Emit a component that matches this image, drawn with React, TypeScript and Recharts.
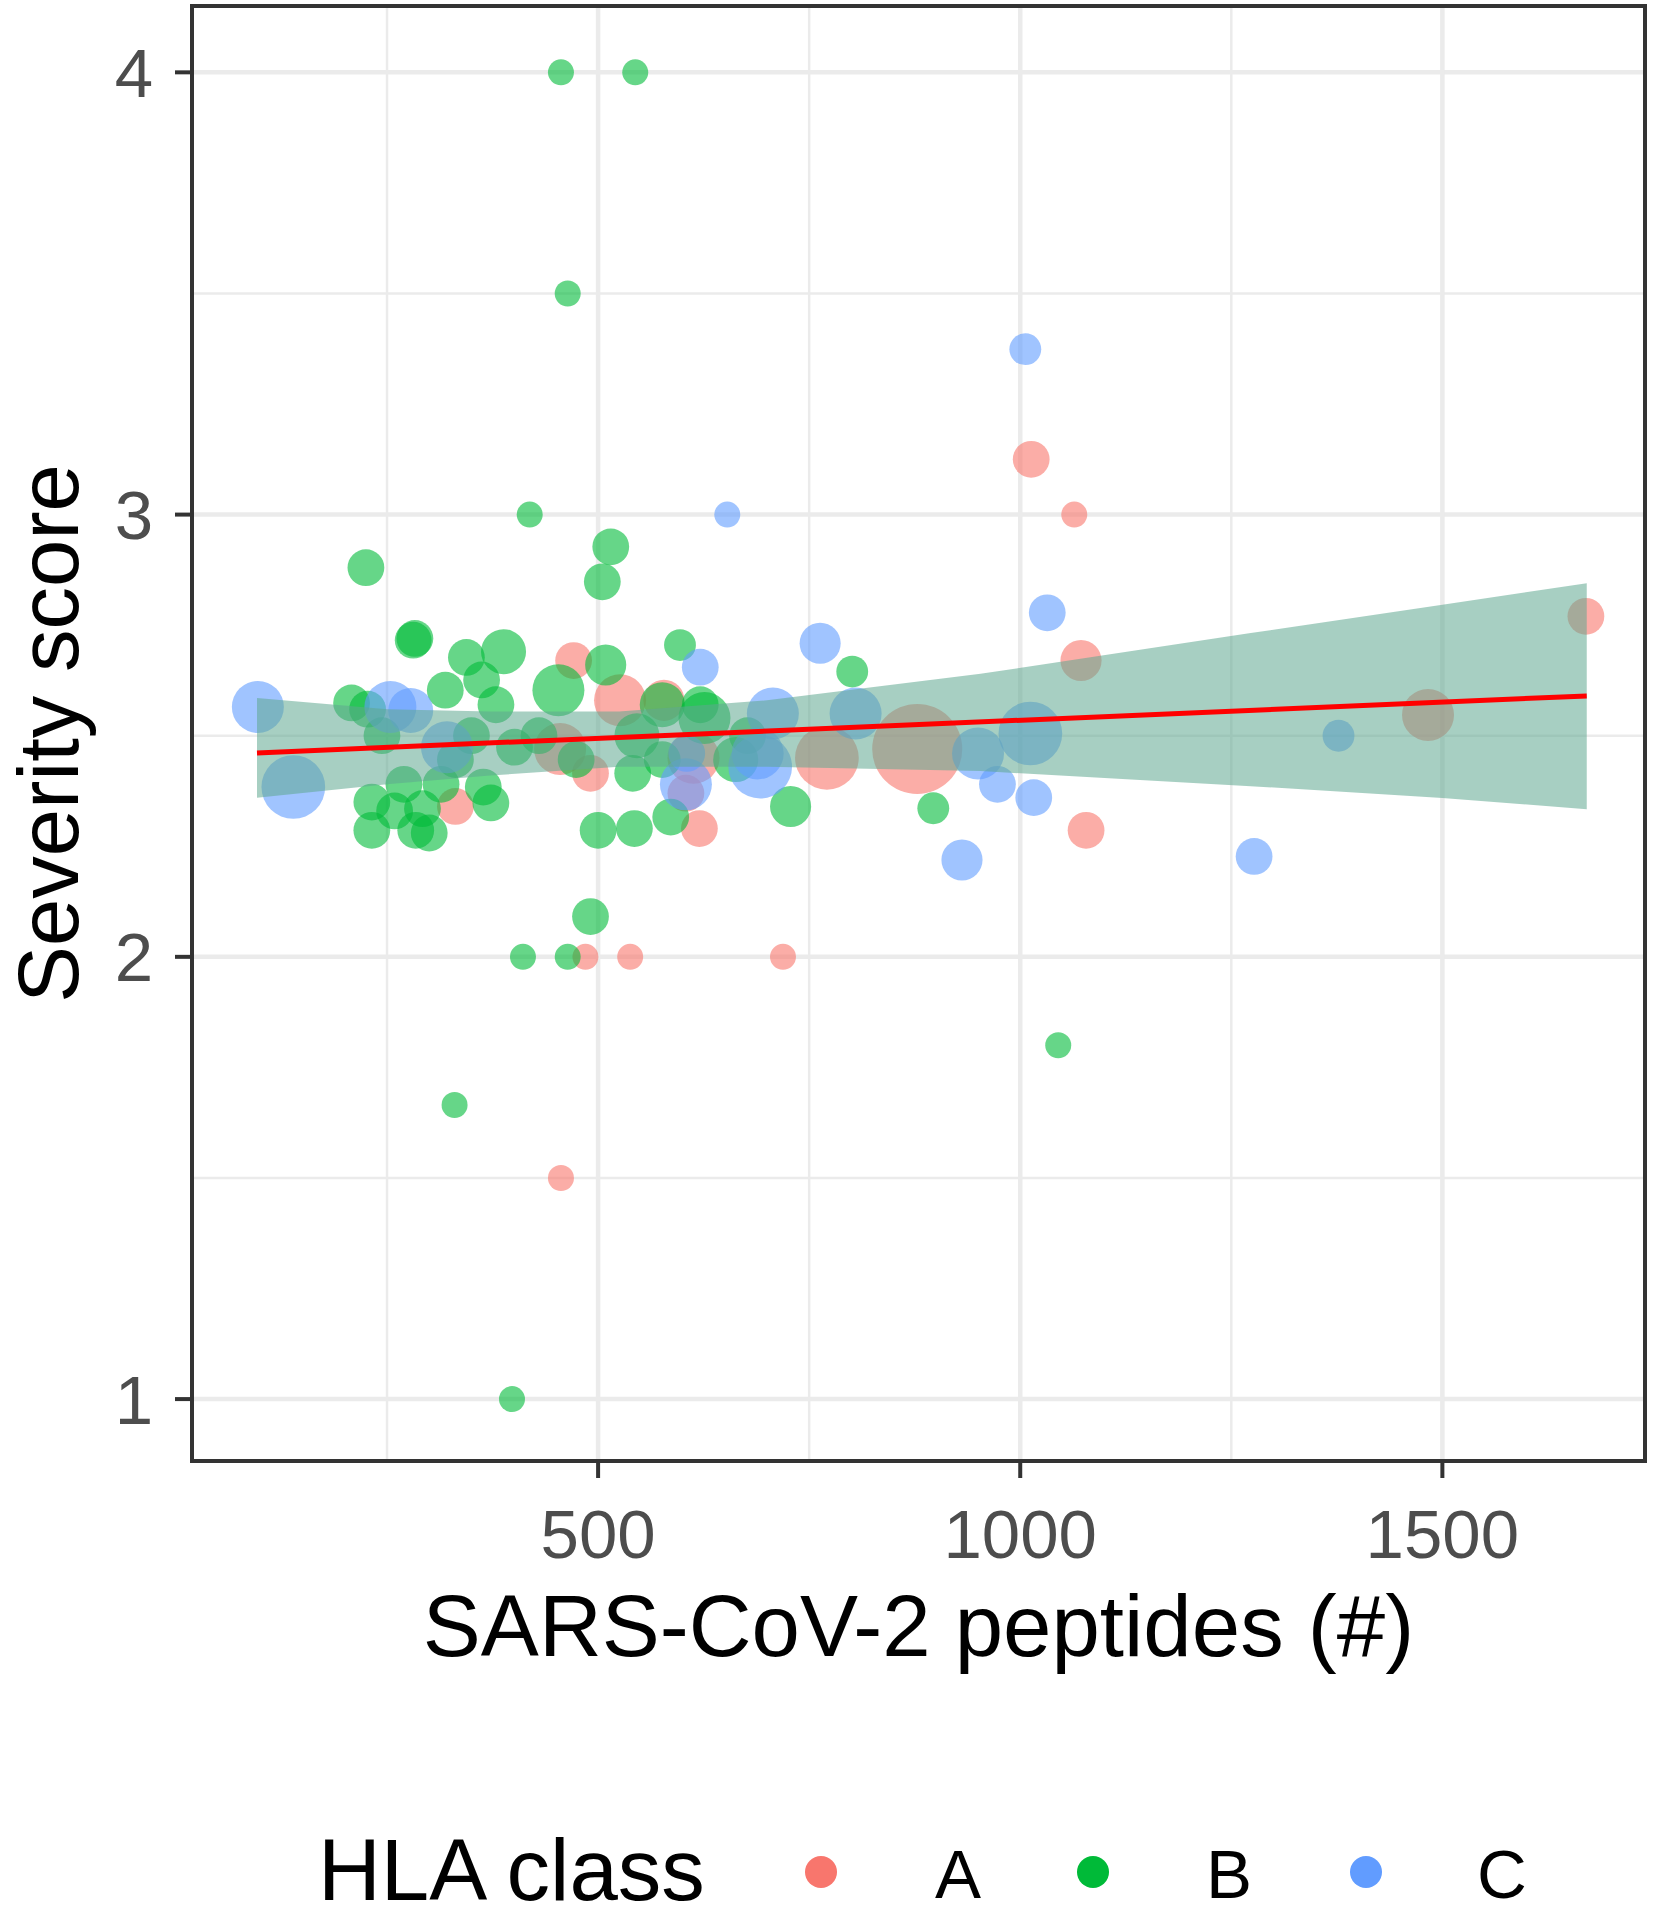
import {
  Area,
  CartesianGrid,
  ComposedChart,
  Line,
  ReferenceArea,
  Scatter,
  XAxis,
  YAxis,
  ZAxis,
} from "recharts";

const FONT = '"Liberation Sans", Arial, Helvetica, sans-serif';

// [peptides, severity, weight]
const hlaA: [number, number, number][] = [
  [1013, 3.125, 2], [1064, 3.0, 1], [1072, 2.67, 2.5], [1670, 2.77, 2],
  [1483, 2.547, 4], [1078, 2.286, 2], [620, 2.29, 2], [485, 2.0, 1],
  [538, 2.0, 1], [719, 2.0, 1], [456, 1.5, 1], [471, 2.67, 2],
  [526, 2.58, 4], [578, 2.58, 2.5], [878, 2.47, 12], [771, 2.45, 6],
  [613, 2.45, 4], [331, 2.34, 2], [604, 2.37, 2], [491, 2.415, 2],
  [455, 2.47, 4],
];

const hlaB: [number, number, number][] = [
  [456, 4.0, 1], [544, 4.0, 1], [464, 3.5, 1], [419, 3.0, 1],
  [225, 2.88, 2], [515, 2.927, 2], [505, 2.848, 2], [281, 2.716, 2],
  [283, 2.72, 2], [388, 2.69, 3], [344, 2.677, 2], [362, 2.626, 2],
  [319, 2.603, 2], [208, 2.574, 2], [453, 2.603, 4], [509, 2.66, 2.5],
  [597, 2.705, 1.5], [801, 2.645, 1.5], [621, 2.57, 2], [232, 2.286, 2],
  [284, 2.286, 2], [259, 2.33, 2], [232, 2.35, 2], [373, 2.348, 2],
  [500, 2.286, 2], [543, 2.29, 2], [586, 2.316, 2], [728, 2.34, 2.5],
  [897, 2.336, 1.5], [541, 2.415, 2], [364, 2.384, 2], [491, 2.091, 2],
  [411, 2.0, 1], [464, 2.0, 1], [1045, 1.8, 1], [330, 1.665, 1],
  [398, 1.0, 1], [227, 2.56, 2], [244, 2.5, 2], [270, 2.39, 2],
  [292, 2.335, 2], [314, 2.39, 2], [331, 2.446, 2], [350, 2.5, 2],
  [401, 2.474, 2], [379, 2.57, 2], [430, 2.5, 2], [474, 2.446, 2],
  [546, 2.5, 3], [576, 2.446, 2], [663, 2.446, 3], [677, 2.5, 2],
  [626, 2.54, 4], [576, 2.57, 3], [300, 2.28, 2],
];

const hlaC: [number, number, number][] = [
  [1006, 3.374, 1.5], [653, 3.0, 1], [1032, 2.778, 2], [763, 2.709, 2.5],
  [621, 2.655, 2], [97, 2.565, 4], [139, 2.384, 6], [254, 2.565, 4],
  [278, 2.557, 3], [321, 2.474, 4], [707, 2.55, 4], [692, 2.43, 6],
  [805, 2.55, 4], [950, 2.46, 4], [1012, 2.505, 6], [1016, 2.36, 2],
  [973, 2.39, 2], [931, 2.219, 2.5], [1277, 2.227, 2], [1377, 2.5, 1.5],
  [604, 2.39, 4], [689, 2.46, 4], [605, 2.46, 2],
];

// linear fit and its confidence band
const fitX = [96, 1671];
const fitY = [2.461, 2.59];
const bandX = [96, 250, 372, 525, 700, 953, 1273, 1500, 1671];
const bandLow = [2.36, 2.39, 2.41, 2.43, 2.43, 2.42, 2.386, 2.359, 2.334];
const bandHigh = [2.585, 2.56, 2.555, 2.555, 2.58, 2.64, 2.732, 2.796, 2.845];

const xTicks = [500, 1000, 1500];
const yTicks = [1, 2, 3, 4];
const xMinor = [250, 750, 1250];
const yMinor = [1.5, 2.5, 3.5];
const xDomain: [number, number] = [19, 1740];
const yDomain: [number, number] = [0.86, 4.15];

const classes = ["A", "B", "C"];
const classColors = ["#F8766D", "#00BA38", "#619CFF"];

const toRows = (pts: [number, number, number][]) =>
  pts.map(([x, y, z]) => ({ x, y, z }));

const fitData = fitX.map((x, i) => ({ x, y: fitY[i] }));
const bandData = bandX.map((x, i) => ({ x, band: [bandLow[i], bandHigh[i]] }));

const W = 1656;
const H = 1920;
const MARGIN = { top: 6, right: 11, left: 0, bottom: 0 };

const dot = (color: string) => (props: any) => {
  const { cx, cy, width, size } = props;
  if (cx == null || cy == null) return null;
  const r = width ? width / 2 : Math.sqrt((size ?? 64) / Math.PI);
  return <circle cx={cx} cy={cy} r={r} fill={color} fillOpacity={0.6} />;
};

const XTitle = (props: any) => {
  const vb = props.viewBox;
  return (
    <text
      x={vb.x + vb.width / 2}
      y={vb.y + 195}
      textAnchor="middle"
      fontSize={87}
      fontFamily={FONT}
      fill="#000"
    >
      SARS-CoV-2 peptides (#)
    </text>
  );
};

const YTitle = (props: any) => {
  const vb = props.viewBox;
  const cx = vb.x + 78;
  const cy = vb.y + vb.height / 2;
  return (
    <text
      x={cx}
      y={cy}
      transform={`rotate(-90 ${cx} ${cy})`}
      textAnchor="middle"
      fontSize={85}
      fontFamily={FONT}
      fill="#000"
    >
      Severity score
    </text>
  );
};

const legendDotX = [821, 1093, 1366];
const legendTextX = [958, 1229, 1502];

// second chart on the same scales, so the ribbon and fit sit above the points
function FitOverlay() {
  return (
    <ComposedChart width={W} height={H} margin={MARGIN}>
      <XAxis
        dataKey="x"
        type="number"
        domain={xDomain}
        allowDataOverflow
        height={459}
        axisLine={false}
        tickLine={false}
        tick={false}
      />
      <YAxis
        type="number"
        domain={yDomain}
        allowDataOverflow
        width={192}
        axisLine={false}
        tickLine={false}
        tick={false}
      />
      <Area
        data={bandData}
        dataKey="band"
        type="linear"
        stroke="none"
        fill="#5fa88f"
        fillOpacity={0.55}
        isAnimationActive={false}
      />
      <Line
        data={fitData}
        dataKey="y"
        type="linear"
        stroke="#ff0000"
        strokeWidth={5}
        dot={false}
        activeDot={false}
        isAnimationActive={false}
      />
      <ReferenceArea
        x1={xDomain[0]}
        x2={xDomain[1]}
        y1={yDomain[0]}
        y2={yDomain[1]}
        fill="none"
        stroke="#333333"
        strokeWidth={4}
        ifOverflow="visible"
      />
    </ComposedChart>
  );
}

export default function App() {
  const tickStyle = { fill: "#4d4d4d", fontSize: 69, fontFamily: FONT };
  return (
    <div
      style={{
        position: "absolute",
        left: 0,
        top: 0,
        width: W,
        height: H,
        background: "#fff",
      }}
    >
      <ComposedChart width={W} height={H} margin={MARGIN}>
        <CartesianGrid
          stroke="#ebebeb"
          strokeWidth={2.5}
          horizontalValues={yMinor}
          verticalValues={xMinor}
        />
        <CartesianGrid
          stroke="#ebebeb"
          strokeWidth={4.5}
          horizontalValues={yTicks}
          verticalValues={xTicks}
        />
        <XAxis
          dataKey="x"
          type="number"
          domain={xDomain}
          ticks={xTicks}
          interval={0}
          allowDataOverflow
          height={459}
          axisLine={false}
          tickLine={{ stroke: "#333333", strokeWidth: 4 }}
          tickSize={17}
          tickMargin={31}
          tick={tickStyle}
          label={<XTitle />}
        />
        <YAxis
          dataKey="y"
          type="number"
          domain={yDomain}
          ticks={yTicks}
          interval={0}
          allowDataOverflow
          width={192}
          axisLine={false}
          tickLine={{ stroke: "#333333", strokeWidth: 4 }}
          tickSize={17}
          tickMargin={22}
          tick={tickStyle}
          label={<YTitle />}
        />
        <ZAxis dataKey="z" type="number" domain={[0, 12]} range={[0, 6372]} />
        <Scatter
          name="A"
          data={toRows(hlaA)}
          shape={dot(classColors[0])}
          isAnimationActive={false}
        />
        <Scatter
          name="B"
          data={toRows(hlaB)}
          shape={dot(classColors[1])}
          isAnimationActive={false}
        />
        <Scatter
          name="C"
          data={toRows(hlaC)}
          shape={dot(classColors[2])}
          isAnimationActive={false}
        />
      </ComposedChart>
      <div style={{ position: "absolute", left: 0, top: 0 }}>
        <FitOverlay />
      </div>
      <svg
        width={W}
        height={H}
        style={{ position: "absolute", left: 0, top: 0, pointerEvents: "none" }}
      >
        <text x={318} y={1900} fontSize={87} fontFamily={FONT} fill="#000">
          HLA class
        </text>
        {classes.map((c, i) => (
          <g key={c}>
            <circle cx={legendDotX[i]} cy={1872} r={16} fill={classColors[i]} />
            <text
              x={legendTextX[i]}
              y={1898}
              textAnchor="middle"
              fontSize={69}
              fontFamily={FONT}
              fill="#000"
            >
              {c}
            </text>
          </g>
        ))}
      </svg>
    </div>
  );
}
